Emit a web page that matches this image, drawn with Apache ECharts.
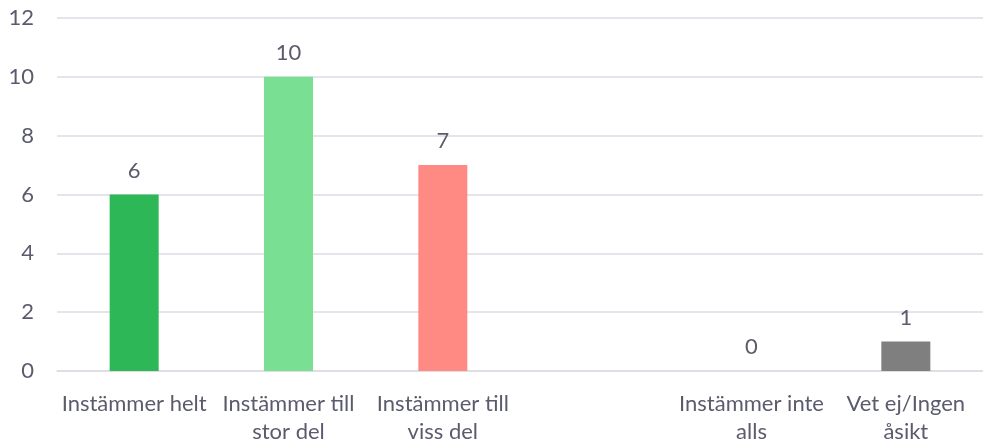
<!DOCTYPE html>
<html>
<head>
<meta charset="utf-8">
<script src="https://cdn.jsdelivr.net/npm/echarts@6/dist/echarts.min.js"></script>
<style>html,body{margin:0;padding:0;background:#fff}#c{width:983px;height:446px}</style>
</head>
<body>
<div id="c"></div>
<script>
var categories = ["Instämmer helt", "Instämmer till stor del", "Instämmer till viss del", "", "Instämmer inte alls", "Vet ej/Ingen åsikt"];
var values = [6, 10, 7, null, 0, 1];
var barColors = ["#2EB757", "#78DF93", "#FF8A84", "#cccccc", "#A6A6A6", "#7F7F7F"];
var yTicks = [0, 2, 4, 6, 8, 10, 12];

var textColor = "#5b5b6e";
var font = "Lato, 'Open Sans', sans-serif";
function wrap(s) {
  if (s.length <= 14) return s;
  var i = s.lastIndexOf(' ', 14);
  return i > 0 ? s.slice(0, i) + '\n' + s.slice(i + 1) : s;
}
var chart = echarts.init(document.getElementById('c'), null, {renderer: 'canvas'});
chart.setOption({
  animation: false,
  grid: {left: 57, top: 18, width: 930, height: 354, containLabel: false},
  xAxis: {
    type: 'category',
    data: categories,
    axisLine: {lineStyle: {color: '#dcdbe3', width: 1.5}},
    axisTick: {show: false},
    axisLabel: {
      interval: 0, color: textColor, fontFamily: font, fontSize: 22,
      margin: 19, lineHeight: 28, formatter: wrap
    }
  },
  yAxis: {
    type: 'value', min: yTicks[0], max: yTicks[yTicks.length - 1], interval: 2,
    axisLine: {show: false}, axisTick: {show: false},
    splitLine: {lineStyle: {color: '#dcdbe3', width: 1.5}},
    axisLabel: {color: textColor, fontFamily: font, fontSize: 22, margin: 23}
  },
  series: [{
    type: 'bar',
    barWidth: 49,
    data: values.map(function (v, i) { return {value: v, itemStyle: {color: barColors[i]}}; }),
    label: {show: true, position: 'top', distance: 13, color: textColor, fontFamily: font, fontSize: 22}
  }]
});
</script>
</body>
</html>
